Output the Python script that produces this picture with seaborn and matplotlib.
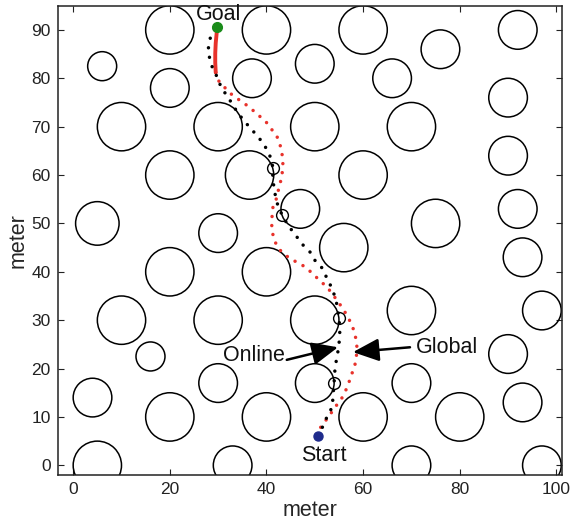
import matplotlib
matplotlib.use("Agg")
import matplotlib.pyplot as plt
import seaborn as sns
import pandas as pd
from matplotlib.patches import Circle

# ---------------- data ----------------
obs_x = [20, 40, 60, 92, 76, 6, 20, 37, 50, 66, 10, 30, 50, 70, 90, 90, 20, 36.5, 60,
         5, 30, 47, 75, 92, 56, 20, 40, 93, 10, 30, 50, 70, 97, 16, 30, 50, 70, 90,
         4, 93, 20, 40, 60, 80, 5, 33, 70, 97]
obs_y = [90, 90, 90, 90, 86, 82.5, 78, 80, 83, 80, 70, 70, 70, 70, 76, 64, 60, 60, 60,
         50, 48, 53, 50, 53, 45, 40, 40, 43, 30, 30, 30, 32, 32, 22.5, 17, 17, 17, 23,
         14, 13, 10, 10, 10, 10, 0, 0, 0, 0]
obs_r = [5, 5, 5, 4, 4, 3, 4, 4, 4, 4, 5, 5, 5, 5, 4, 4, 5, 5, 5,
         4.5, 4, 4, 5, 4, 5, 5, 5, 4, 5, 5, 5, 5, 4, 3, 4, 4, 4, 4,
         4, 4, 5, 5, 5, 5, 5, 4, 4, 4]

start = (50.6, 6.1)
goal = (29.8, 90.7)

online_x = [50.6, 51.5, 52.7, 53.6, 53.8, 54.0, 54.2, 54.6, 55.0, 55.2, 55.0, 54.6, 54.2,
            53.4, 52.5, 51.5, 50.0, 49.0, 47.6, 46.3, 44.4, 43.2, 42.2, 41.6, 41.3, 41.3,
            41.1, 40.3, 39.3, 38.0, 37.0, 35.5, 33.9, 32.6, 31.4, 30.4, 29.8, 28.9, 28.5,
            27.9, 28.1, 28.7, 29.8]
online_y = [6.1, 7.7, 10.4, 12.0, 14.5, 17.1, 20.3, 22.4, 24.8, 28.0, 30.4, 33.1, 34.8,
            36.9, 38.7, 40.8, 42.4, 44.1, 45.5, 47.2, 49.7, 51.8, 54.2, 56.9, 59.6, 61.5,
            63.1, 64.8, 66.7, 68.1, 69.4, 71.0, 73.1, 75.2, 77.0, 78.7, 80.3, 81.8, 83.4,
            85.3, 87.4, 89.4, 90.7]

global_x = [50.6, 51.1, 53.1, 54.2, 55.6, 56.7, 57.7, 58.3, 58.7, 58.7, 57.9, 56.9, 55.6,
            53.8, 52.5, 51.1, 49.4, 47.4, 45.5, 43.8, 42.4, 41.6, 41.1, 41.1, 41.3, 42.2,
            42.6, 43.2, 43.4, 43.2, 42.8, 42.2, 41.1, 39.9, 38.2, 36.6, 34.9, 33.3, 32.0,
            31.0, 30.2, 29.5]
global_y = [6.1, 7.7, 10.4, 12.0, 13.9, 16.1, 19.0, 20.7, 23.2, 25.5, 28.4, 30.6, 32.7,
            35.2, 36.9, 38.1, 39.8, 41.4, 42.4, 43.5, 44.9, 46.6, 48.7, 50.7, 53.2, 55.5,
            57.6, 59.6, 62.5, 64.6, 66.3, 67.9, 69.4, 71.0, 72.5, 73.9, 75.2, 76.2, 77.4,
            78.5, 79.3, 81.2]
global_end_x = [29.5, 29.4, 29.4, 29.5, 29.7, 29.8]
global_end_y = [81.2, 83.2, 85.2, 87.3, 89.4, 90.7]

wp_x = [54.0, 55.0, 43.2, 41.3]
wp_y = [17.1, 30.4, 51.8, 61.5]

x_ticks = [0, 20, 40, 60, 80, 100]
y_ticks = [0, 10, 20, 30, 40, 50, 60, 70, 80, 90]

# ---------------- style ----------------
sns.set_style("ticks")
plt.rcParams["font.family"] = ["Liberation Sans", "DejaVu Sans"]
plt.rcParams["xtick.direction"] = "in"
plt.rcParams["ytick.direction"] = "in"

fig = plt.figure(figsize=(5.76, 5.29), dpi=100)
ax = fig.add_axes([0.1002, 0.1021, 0.8750, 0.8871])

for cx, cy, r in zip(obs_x, obs_y, obs_r):
    ax.add_patch(Circle((cx, cy), r, fill=False, edgecolor="black", lw=1.1, zorder=1))

online_df = pd.DataFrame({"x": online_x, "y": online_y})
global_df = pd.DataFrame({"x": global_x, "y": global_y})
gend_df = pd.DataFrame({"x": global_end_x, "y": global_end_y})

sns.lineplot(data=global_df, x="x", y="y", sort=False, estimator=None, ax=ax,
             color="#e8322b", lw=2.5, linestyle=(0, (0.01, 2.6)),
             dash_capstyle="round", zorder=3)
sns.lineplot(data=gend_df, x="x", y="y", sort=False, estimator=None, ax=ax,
             color="#e8322b", lw=2.8, zorder=3)
sns.lineplot(data=online_df, x="x", y="y", sort=False, estimator=None, ax=ax,
             color="black", lw=2.5, linestyle=(0, (0.01, 2.8)),
             dash_capstyle="round", zorder=4)

ax.plot(wp_x, wp_y, linestyle="none", marker="o", ms=8.5, mfc="none",
        mec="black", mew=1.0, zorder=5)
ax.plot([start[0]], [start[1]], linestyle="none", marker="o", ms=6.5,
        color="#1f2b8c", zorder=6)
ax.plot([goal[0]], [goal[1]], linestyle="none", marker="o", ms=7,
        color="#1a8c1a", zorder=6)

txt_kw = dict(fontsize=15.5, color="#111111")
ax.text(30.1, 93.2, "Goal", ha="center", va="center", **txt_kw)
ax.text(51.8, 2.1, "Start", ha="center", va="center", **txt_kw)
ax.text(43.9, 22.6, "Online", ha="right", va="center", **txt_kw)
ax.text(70.9, 24.4, "Global", ha="left", va="center", **txt_kw)

arrow_kw = dict(arrowstyle="-|>,head_length=1.6,head_width=0.7", lw=1.8,
                color="black", shrinkA=0, shrinkB=0, mutation_scale=10)
ax.annotate("", xy=(54.8, 24.4), xytext=(44.2, 21.8), arrowprops=arrow_kw, zorder=7)
ax.annotate("", xy=(57.9, 23.4), xytext=(69.7, 24.4), arrowprops=arrow_kw, zorder=7)

ax.set_xlim(-3.2, 101.1)
ax.set_ylim(-2, 95)
ax.set_xticks(x_ticks)
ax.set_yticks(y_ticks)
ax.tick_params(axis="both", which="both", direction="in", length=4, width=0.8,
               labelsize=12.5, top=True, right=True, pad=5, colors="#222222")
for sp in ax.spines.values():
    sp.set_visible(True)
    sp.set_linewidth(1.1)
    sp.set_color("#222222")
ax.set_xlabel("meter", fontsize=15.5, labelpad=2)
ax.set_ylabel("meter", fontsize=15.5, labelpad=2)

fig.savefig("out.png", dpi=100)
